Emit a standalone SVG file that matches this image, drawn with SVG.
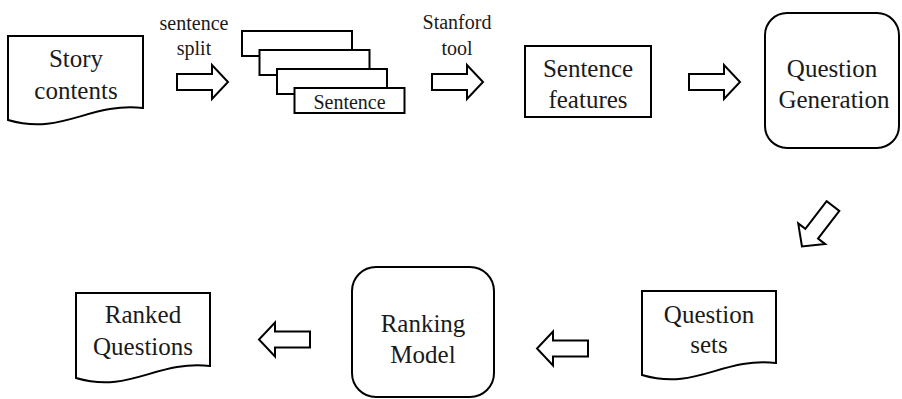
<svg xmlns="http://www.w3.org/2000/svg" width="902" height="399" viewBox="0 0 902 399">
<style>
.s{fill:#fff;stroke:#000;stroke-width:2;stroke-linejoin:miter}
.t{font-family:"Liberation Serif","Times New Roman",serif;font-size:25px;fill:#1a1a1a;text-anchor:middle}
.l{font-family:"Liberation Serif","Times New Roman",serif;font-size:20px;fill:#1a1a1a;text-anchor:middle}
</style>
<defs>
<path id="arr" d="M0,-8 H35 V-17 L51,0 L35,17 V8 H0 Z" fill="#fff" stroke="#000" stroke-width="2"/>
</defs>
<rect width="902" height="399" fill="#fff"/>
<g id="connectors">
<use href="#arr" transform="translate(177,82)"/>
<use href="#arr" transform="translate(432,82)"/>
<use href="#arr" transform="translate(689,82)"/>
<use href="#arr" transform="translate(833,206) rotate(127.5)"/>
<use href="#arr" transform="translate(588,348.5) rotate(180)"/>
<use href="#arr" transform="translate(310,339.5) rotate(180)"/>
<text class="l" x="194" y="30">sentence</text>
<text class="l" x="194" y="55">split</text>
<text class="l" x="457" y="29">Stanford</text>
<text class="l" x="457" y="55">tool</text>
</g>
<g id="story">
<path class="s" d="M8,36 H143 V108 C89,102 62,136 8,120 Z"/>
<text class="t" x="76" y="67">Story</text>
<text class="t" x="76" y="99">contents</text>
</g>
<g id="sentences">
<rect class="s" x="242" y="31" width="110" height="25"/>
<rect class="s" x="259.5" y="50" width="110" height="25"/>
<rect class="s" x="277" y="69" width="110" height="25"/>
<rect class="s" x="294.5" y="88" width="110" height="25"/>
<text class="l" x="349.5" y="109">Sentence</text>
</g>
<g id="features">
<rect class="s" x="525" y="46" width="126" height="71"/>
<text class="t" x="588" y="77">Sentence</text>
<text class="t" x="588" y="108">features</text>
</g>
<g id="qgen">
<rect class="s" x="765" y="13" width="134" height="135" rx="22" ry="22"/>
<text class="t" x="832" y="77">Question</text>
<text class="t" x="834" y="108">Generation</text>
</g>
<g id="qsets">
<path class="s" d="M642,291 H776 V363 C722,357 696,391 642,375 Z"/>
<text class="t" x="709" y="323">Question</text>
<text class="t" x="709" y="353">sets</text>
</g>
<g id="ranking">
<rect class="s" x="352" y="267" width="142" height="130" rx="24" ry="24"/>
<text class="t" x="423" y="332">Ranking</text>
<text class="t" x="423" y="363">Model</text>
</g>
<g id="ranked">
<path class="s" d="M76,293 H210 V366 C156,360 130,394 76,378 Z"/>
<text class="t" x="143" y="323">Ranked</text>
<text class="t" x="143" y="355">Questions</text>
</g>
</svg>
